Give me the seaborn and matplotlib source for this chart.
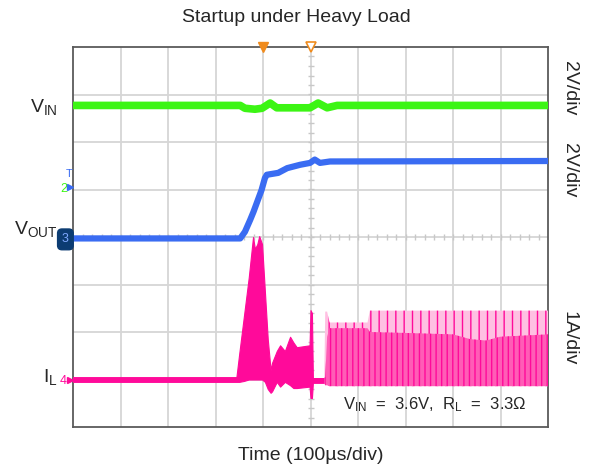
import matplotlib
matplotlib.use("Agg")
import matplotlib.pyplot as plt
import seaborn as sns
import numpy as np

# time in microseconds (100 us/div, 10 divisions), levels in divisions
vin_t = [0, 352, 362, 383, 398, 415, 429, 499, 516, 535, 556, 1000]
vin_y = [6.77, 6.77, 6.71, 6.69, 6.71, 6.82, 6.72, 6.72, 6.82, 6.72, 6.77, 6.77]

vout_t = [0, 352, 362, 373, 380, 387, 397, 404, 408, 432, 451, 478, 499, 509, 520, 541, 1000]
vout_y = [3.97, 3.97, 4.11, 4.36, 4.53, 4.72, 4.99, 5.24, 5.31, 5.35, 5.45, 5.52, 5.56, 5.63, 5.56, 5.59, 5.60]

# inductor current envelope (min / max of the switching waveform)
il_t = [0, 344, 350, 360, 370, 379, 383, 388, 392, 398, 404, 410, 416, 419,
        429, 436, 446, 457, 464, 471, 498, 500, 503, 505, 529]
il_lo = [0.95, 0.95, 0.95, 0.97, 1.0, 1.0, 1.0, 1.0, 1.0, 1.0, 0.95, 0.8, 0.72, 0.75,
         0.95, 0.85, 0.95, 0.88, 0.82, 0.82, 0.85, 0.61, 0.61, 0.93, 0.93]
il_hi = [1.05, 1.05, 1.55, 2.35, 3.15, 4.0, 3.75, 3.85, 4.02, 3.85, 2.85, 1.85, 1.2, 1.35,
         1.6, 1.72, 1.6, 1.90, 1.78, 1.68, 1.72, 2.46, 2.40, 1.03, 1.03]

# switching region after soft start: outer peaks and dense core
sw_t = [529, 531, 535, 540, 620, 625, 700, 800, 836, 870, 899, 1000]
sw_outer_hi = [1.03, 2.43, 2.43, 2.20, 2.20, 2.45, 2.45, 2.45, 2.45, 2.45, 2.45, 2.45]
sw_core_hi = [1.03, 1.05, 1.9, 2.08, 2.08, 2.0, 1.98, 1.95, 1.85, 1.82, 1.9, 1.95]
sw_lo = [0.93, 0.88, 0.88, 0.86, 0.86, 0.86, 0.86, 0.86, 0.86, 0.86, 0.86, 0.86]

GREEN = "#3cf514"
BLUE = "#3a6cf2"
PINK = "#ff0a9a"

sns.set_theme(style="white")
plt.rcParams["font.family"] = ["Liberation Sans", "DejaVu Sans"]
plt.rcParams["mathtext.fontset"] = "custom"
plt.rcParams["mathtext.rm"] = "Liberation Sans"
plt.rcParams["mathtext.it"] = "Liberation Sans:italic"

fig = plt.figure(figsize=(5.93, 4.74), dpi=100)
ax = fig.add_axes([73 / 593, 47 / 474, 475 / 593, 380 / 474])
ax.set_xlim(0, 1000)
ax.set_ylim(0, 8)

# scope graticule
for gx in range(100, 1000, 100):
    ax.axvline(gx, color="#d6d6d6", lw=1.3, zorder=0)
for gy in range(1, 8):
    ax.axhline(gy, color="#d6d6d6", lw=1.3, zorder=0)
ax.plot(np.arange(20, 1000, 20), np.full(49, 4.0), ls="none", marker="|",
        ms=5, color="#c8c8c8", mew=1.0, zorder=0)
ax.plot(np.full(39, 500.0), np.arange(0.2, 8, 0.2), ls="none", marker="_",
        ms=5, color="#c8c8c8", mew=1.0, zorder=0)

# traces
sns.lineplot(x=vin_t, y=vin_y, ax=ax, color=GREEN, lw=5.5, zorder=3)
sns.lineplot(x=vout_t, y=vout_y, ax=ax, color=BLUE, lw=4.5, zorder=3)
ax.fill_between(il_t, il_lo, il_hi, color=PINK, lw=0.8, zorder=3)
ax.fill_between(sw_t, sw_lo, sw_outer_hi, facecolor="#ffc0e2", edgecolor=PINK,
                hatch="||", lw=0, zorder=3)
ax.fill_between(sw_t, sw_lo, sw_core_hi, facecolor="#ff5db6", edgecolor=PINK,
                hatch="|||", lw=0, zorder=4)

for s in ax.spines.values():
    s.set_color("#5a5a5a")
    s.set_linewidth(1.3)
ax.set_xticks([])
ax.set_yticks([])

# trigger markers on the top edge
ax.plot([400], [8], marker="v", ms=7, color="#f08c1e", clip_on=False, zorder=6)
ax.plot([500], [8], marker="v", ms=7, mfc="white", mec="#f08c1e", mew=1.2,
        clip_on=False, zorder=6)

# channel markers on the left edge
yax = ax.get_yaxis_transform()
ax.plot([-0.006], [5.05], transform=yax, marker=">", ms=5, color=BLUE, clip_on=False, zorder=6)
ax.text(-0.02, 5.0, "2", transform=yax, color=GREEN, fontsize=9, ha="center", va="center")
ax.text(-0.008, 5.33, "T", transform=yax, color=BLUE, fontsize=8, ha="center", va="center")
ax.text(-0.016, 3.95, "3", transform=yax, color="#7fa8ff", fontsize=9, ha="center", va="center",
        bbox=dict(boxstyle="round,pad=0.35", fc="#0c3c72", ec="#0c3c72"), zorder=6)
ax.plot([-0.006], [1.0], transform=yax, marker=">", ms=5, color=PINK, clip_on=False, zorder=6)
ax.text(-0.02, 0.97, "4", transform=yax, color=PINK, fontsize=9, ha="center", va="center")

# trace labels
ax.text(-0.032, 6.74, r"V$_{\mathrm{IN}}$", transform=yax, fontsize=14, ha="right", va="center")
ax.text(-0.032, 4.17, r"V$_{\mathrm{OUT}}$", transform=yax, fontsize=14, ha="right", va="center")
ax.text(-0.032, 1.05, r"I$_{\mathrm{L}}$", transform=yax, fontsize=14, ha="right", va="center")

ax.text(1.045, 7.14, "2V/div", transform=yax, fontsize=14, rotation=-90, ha="center", va="center")
ax.text(1.045, 5.41, "2V/div", transform=yax, fontsize=14, rotation=-90, ha="center", va="center")
ax.text(1.045, 1.87, "1A/div", transform=yax, fontsize=14, rotation=-90, ha="center", va="center")

ax.text(956, 0.46, r"V$_{\mathrm{IN}}$  =  3.6V,  R$_{\mathrm{L}}$  =  3.3Ω",
        fontsize=12, ha="right", va="center", zorder=7)

fig.text(0.5, 1 - 17 / 474, "Startup under Heavy Load", fontsize=14, ha="center", va="center")
ax.text(0.5, -28 / 380, "Time (100µs/div)", transform=ax.transAxes, fontsize=14,
        ha="center", va="center")

fig.savefig("out.png", dpi=100)
